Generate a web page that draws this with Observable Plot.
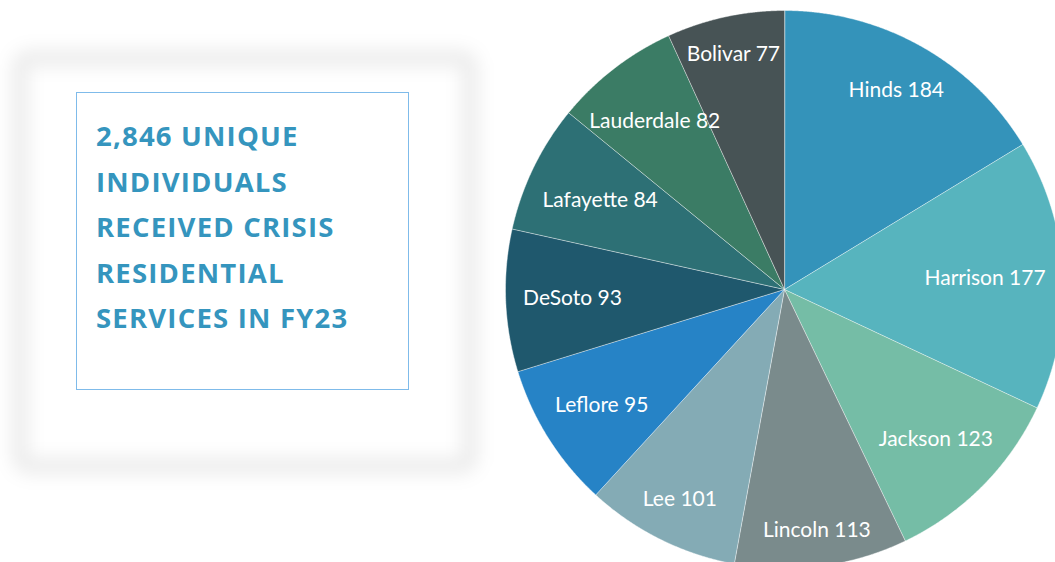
<!DOCTYPE html>
<html>
<head>
<meta charset="utf-8">
<script src="https://cdn.jsdelivr.net/npm/d3@7"></script>
<script src="https://cdn.jsdelivr.net/npm/@observablehq/plot@0.6"></script>
<style>
  html, body { margin: 0; padding: 0; background: #fff; }
  #wrap { position: relative; width: 1055px; height: 562px; overflow: hidden; }
  #glow { position: absolute; left: 12px; top: 50px; width: 434px; height: 392px;
          border: 16px solid rgba(0,0,0,0.08); border-radius: 18px; filter: blur(9px); }
  #box { position: absolute; left: 76px; top: 92px; width: 331px; height: 296px;
         border: 1px solid #7fbbea; box-sizing: content-box; }
  #headline { position: absolute; left: 96px; top: 113px; margin: 0;
              font-family: "Open Sans", sans-serif; font-weight: 700; font-size: 27.5px;
              line-height: 45.5px; color: #3595be; letter-spacing: 1.2px; }
  #chart { position: absolute; left: 0; top: 0; }
</style>
</head>
<body>
<div id="wrap">
  <div id="glow"></div>
  <div id="box"></div>
  <div id="headline">2,846 UNIQUE<br>INDIVIDUALS<br>RECEIVED CRISIS<br>RESIDENTIAL<br>SERVICES IN FY23</div>
  <div id="chart"></div>
</div>
<script>
const counties = ["Hinds", "Harrison", "Jackson", "Lincoln", "Lee", "Leflore", "DeSoto", "Lafayette", "Lauderdale", "Bolivar"];
const counts = [184, 177, 123, 113, 101, 95, 93, 84, 82, 77];
const colors = ["#3493ba", "#57b4be", "#75bda6", "#7a8b8c", "#84abb5", "#2683c6", "#1f586d", "#2d7075", "#3b7c65", "#475355"];

const W = 1055, H = 562;
const cx = 784, cy = 289, R = 279;
const fontSize = 21;
const labelFont = `${fontSize}px Lato`;

const arcs = d3.pie().sort(null).value(d => d)(counts);

// slice outlines in unit-circle coordinates (angle clockwise from 12 o'clock)
const pts = [];
arcs.forEach((a, i) => {
  const name = counties[i];
  pts.push({name, x: 0, y: 0});
  const n = Math.max(2, Math.ceil((a.endAngle - a.startAngle) / (Math.PI / 720)));
  for (let k = 0; k <= n; k++) {
    const t = a.startAngle + (a.endAngle - a.startAngle) * k / n;
    pts.push({name, x: Math.sin(t), y: Math.cos(t)});
  }
});

// label placement: "inside end" style, text box kept inside the rim
const ctx = document.createElement("canvas").getContext("2d");
ctx.font = labelFont;
const labels = arcs.map((a, i) => {
  const text = `${counties[i]} ${counts[i]}`;
  const mid = (a.startAngle + a.endAngle) / 2;
  const hw = ctx.measureText(text).width / 2;
  const hh = 12;
  const ext = hw * Math.abs(Math.sin(mid)) + hh * Math.abs(Math.cos(mid));
  const d = (R - 17 - ext) / R;
  return {text, x: d * Math.sin(mid), y: d * Math.cos(mid)};
});

const chart = Plot.plot({
  width: W,
  height: H,
  margin: 0,
  style: {background: "transparent", overflow: "visible"},
  x: {domain: [-1, 1], range: [cx - R, cx + R], axis: null},
  y: {domain: [-1, 1], range: [cy + R, cy - R], axis: null},
  color: {domain: counties, range: colors},
  marks: [
    Plot.line(pts, {x: "x", y: "y", z: "name", fill: "name", stroke: "#ffffff", strokeOpacity: 0.55, strokeWidth: 0.8, curve: "linear-closed"}),
    Plot.text(labels, {x: "x", y: "y", text: "text", fill: "white", fontSize, fontFamily: "Lato", textAnchor: "middle", lineAnchor: "middle"})
  ]
});
document.getElementById("chart").appendChild(chart);
</script>
</body>
</html>
